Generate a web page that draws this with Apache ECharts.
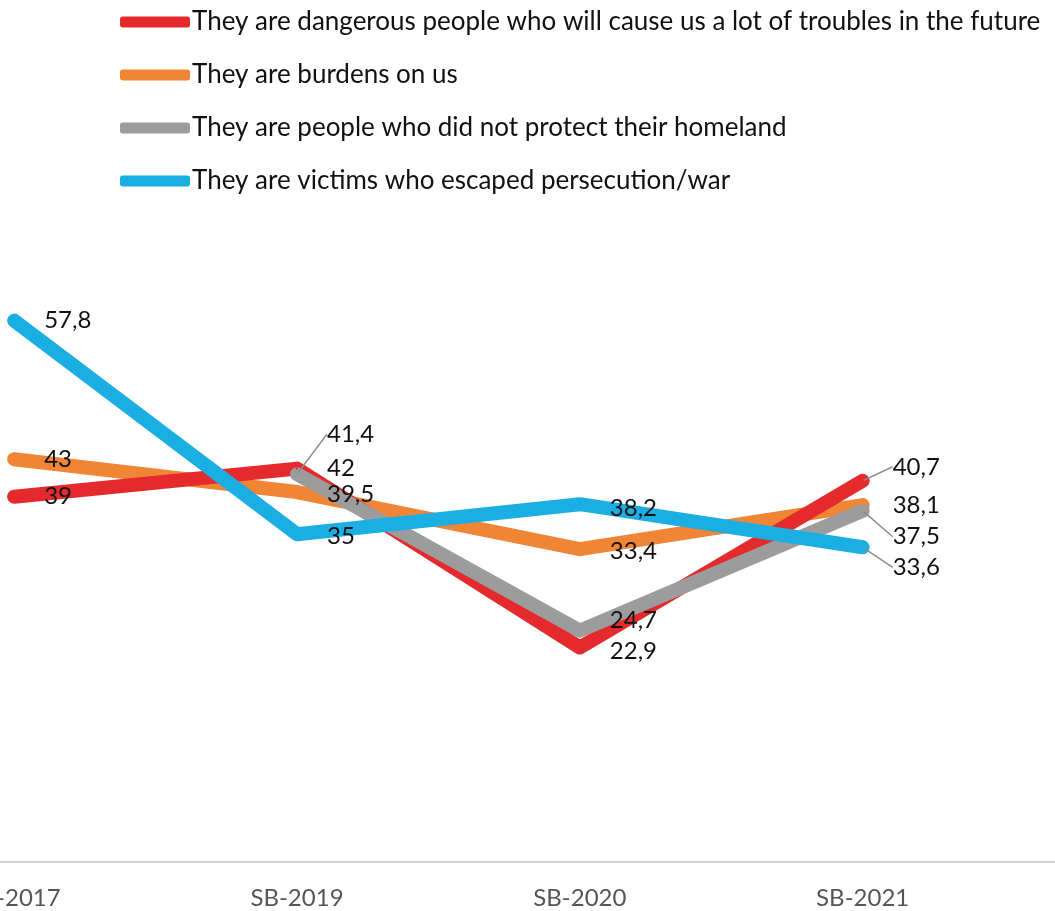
<!DOCTYPE html>
<html>
<head>
<meta charset="utf-8">
<script src="https://cdn.jsdelivr.net/npm/echarts@6/dist/echarts.min.js"></script>
<style>
  html, body { margin: 0; padding: 0; background: #fff; }
  #chart { width: 1055px; height: 911px; }
</style>
</head>
<body>
<div id="chart"></div>
<script>
// data
const categories = ['SB-2017', 'SB-2019', 'SB-2020', 'SB-2021']
const seriesNames = [
  'They are dangerous people who will cause us a lot of troubles in the future',
  'They are burdens on us',
  'They are people who did not protect their homeland',
  'They are victims who escaped persecution/war',
]
const dangerous = [39, 42, 22.9, 40.7]
const burdens = [43, 39.5, 33.4, 38.1]
const notProtect = [null, 41.4, 24.7, 37.5]
const victims = [57.8, 35, 38.2, 33.6]

const colors = ['#e52a2d', '#ef8535', '#9c9c9c', '#1aaee2']
const fontFamily = 'Lato, "Open Sans", sans-serif'

// label nudges (style only), [series][point] -> [dx, dy, leaderLine]
const nudges = [
  [[0, 0], [0, 0], [0, 4], [0, -14, true]],
  [[0, 0], [0, 2], [0, 2], [0, 0]],
  [[0, 0], [0, -40, true], [0, -10], [0, 26, true]],
  [[0, 0], [0, 2], [0, 4], [0, 20, true]],
]

const chart = echarts.init(document.getElementById('chart'))

const makeSeries = (arr, s) => ({
  type: 'line',
  name: seriesNames[s],
  data: arr.map((v, i) => ({
    value: [i, v == null ? '-' : v],
    labelLine: { show: !!(nudges[s][i] && nudges[s][i][2]) },
  })),
  symbol: 'circle',
  symbolSize: 2,
  lineStyle: { width: 14, color: colors[s], cap: 'round', join: 'round' },
  itemStyle: { color: colors[s] },
  label: {
    show: true,
    position: 'right',
    distance: 29,
    color: '#111',
    fontFamily: fontFamily,
    fontSize: 24,
    formatter: (p) => String(p.value[1]).replace('.', ','),
  },
  labelLine: { show: false, lineStyle: { color: '#8c8c8c', width: 1.5 } },
  labelLayout: (p) => {
    const n = nudges[s][p.dataIndex] || [0, 0]
    return { dx: n[0], dy: n[1] }
  },
  emphasis: { disabled: true },
})

const allData = [dangerous, burdens, notProtect, victims]
// drawing order: orange, red, gray, blue (later on top)
const series = [1, 0, 2, 3].map((s) => makeSeries(allData[s], s))

chart.setOption({
  animation: false,
  legend: {
    orient: 'vertical',
    left: 120,
    top: 9,
    padding: 0,
    itemWidth: 70,
    itemHeight: 11,
    itemGap: 27,
    icon: 'roundRect',
    textStyle: { color: '#111', fontSize: 26, fontFamily: fontFamily, padding: [0, 0, 0, -3] },
    data: seriesNames,
  },
  grid: { left: 0, right: 0, top: 300, bottom: 49, outerBoundsMode: 'none', containLabel: false },
  xAxis: {
    type: 'value',
    min: -0.05,
    max: 3.68,
    splitLine: { show: false },
    axisTick: { show: false },
    axisLine: { show: true, lineStyle: { color: '#d0d0d0', width: 2 } },
    axisLabel: {
      margin: 24,
      color: '#555',
      fontFamily: fontFamily,
      fontSize: 24,
      hideOverlap: false,
      showMinLabel: true,
      customValues: [0, 1, 2, 3],
      formatter: (v) => categories[Math.round(v)] || '',
    },
  },
  yAxis: {
    type: 'value',
    min: 0,
    max: 60,
    show: false,
  },
  series: series,
})
</script>
</body>
</html>
